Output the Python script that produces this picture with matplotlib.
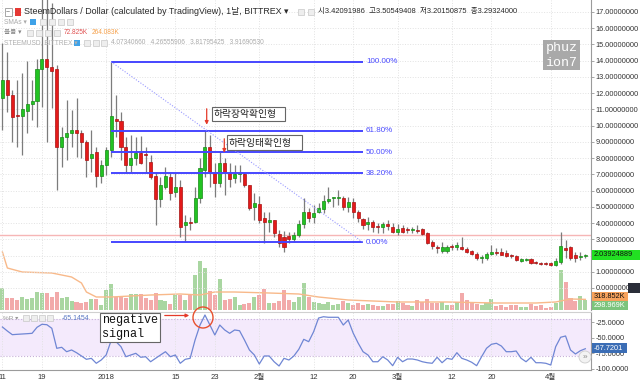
import matplotlib.pyplot as plt
import matplotlib.ticker as mticker
from matplotlib.patches import Rectangle, Ellipse, FancyArrowPatch

plt.rcParams['font.family'] = ['Liberation Sans', 'Noto Sans CJK KR', 'DejaVu Sans']

# ---- daily candles, STEEMUSD (Dec 11 -> Apr 8) ----
opens = [11.70, 12.81, 11.88, 10.60, 10.59, 10.90, 11.33, 11.51, 13.49, 14.10,
         13.61, 13.49, 8.68, 9.30, 9.54, 9.73, 9.54, 8.99, 8.00, 8.37,
         6.90, 7.57, 8.50, 10.40, 10.28, 8.68, 7.57, 8.00, 8.31, 8.28,
         7.76, 6.90, 5.48, 6.22, 6.83, 5.91, 6.22, 3.88, 4.06, 4.06,
         5.54, 7.27, 8.68, 7.08, 6.47, 7.70, 7.08, 6.77, 7.05, 7.02,
         6.34, 4.99, 5.17, 4.31, 4.06, 4.19, 3.33, 3.14, 3.20, 3.02,
         3.26, 3.94, 4.68, 4.37, 4.68, 4.86, 5.36, 5.54, 5.54, 5.54,
         4.99, 5.30, 4.68, 4.25, 3.94, 4.06, 3.80, 3.76, 3.94, 3.76,
         3.45, 3.69, 3.57, 3.55, 3.56, 3.63, 3.39, 2.83, 2.52, 2.28,
         2.28, 2.59, 2.52, 2.52, 2.40, 2.28, 2.09, 1.85, 1.85, 2.09,
         2.22, 2.22, 2.16, 1.97, 1.97, 1.66, 1.72, 1.79, 1.60, 1.54,
         1.51, 1.54, 1.42, 1.60, 2.46, 2.52, 2.03, 1.90, 1.97]
highs = [15.09, 14.53, 12.19, 12.81, 13.24, 13.98, 12.81, 14.10, 18.50, 18.20,
         17.55, 13.73, 9.91, 11.58, 10.96, 11.70, 9.73, 9.11, 9.73, 8.68,
         7.88, 8.68, 13.93, 11.88, 10.84, 9.30, 9.42, 9.30, 9.36, 8.68,
         8.19, 7.14, 6.83, 7.45, 7.08, 7.08, 6.65, 4.50, 4.37, 6.22,
         8.00, 9.73, 9.42, 7.70, 8.37, 8.00, 7.70, 7.57, 7.57, 7.08,
         6.34, 5.85, 5.67, 4.68, 4.68, 4.19, 3.57, 3.51, 3.45, 3.45,
         4.19, 5.54, 4.93, 5.11, 5.23, 5.73, 6.22, 5.60, 6.03, 5.67,
         5.60, 5.54, 4.80, 4.31, 4.37, 4.19, 4.00, 4.06, 4.19, 4.00,
         3.94, 3.88, 3.76, 3.76, 3.88, 3.69, 3.45, 2.96, 2.65, 2.83,
         2.65, 2.71, 2.83, 3.14, 2.52, 2.34, 2.22, 2.03, 2.22, 2.65,
         2.46, 2.46, 2.34, 2.09, 2.03, 1.85, 1.85, 1.85, 1.66, 1.60,
         1.60, 1.60, 1.85, 3.45, 2.96, 2.59, 2.22, 2.22, 2.09]
lows = [9.73, 10.84, 8.99, 8.68, 8.19, 9.54, 10.34, 9.91, 11.15, 8.99,
        11.08, 6.03, 7.45, 7.88, 8.68, 8.07, 8.00, 6.83, 7.14, 6.22,
        6.47, 6.96, 8.07, 9.30, 7.88, 7.08, 7.14, 7.57, 7.64, 7.08,
        6.71, 3.88, 4.99, 6.10, 5.42, 5.60, 3.14, 2.83, 3.57, 4.00,
        5.23, 6.83, 6.22, 5.60, 6.22, 5.73, 6.22, 6.47, 6.53, 6.22,
        4.80, 4.19, 4.00, 2.77, 3.45, 3.14, 2.52, 2.22, 2.77, 2.83,
        3.14, 3.69, 4.06, 4.00, 4.62, 4.62, 5.23, 4.99, 5.11, 4.80,
        4.68, 4.31, 4.06, 3.63, 3.57, 3.45, 3.39, 3.39, 3.57, 3.39,
        3.26, 3.39, 3.39, 3.39, 3.39, 3.26, 2.71, 2.40, 2.16, 2.16,
        2.16, 2.34, 2.34, 2.34, 2.16, 2.03, 1.72, 1.54, 1.72, 2.03,
        2.03, 2.03, 1.91, 1.85, 1.66, 1.60, 1.66, 1.48, 1.48, 1.42,
        1.42, 1.35, 1.35, 1.48, 1.85, 1.72, 1.60, 1.72, 1.85]
closes = [12.81, 11.88, 10.53, 10.59, 11.02, 11.33, 11.51, 13.49, 14.10, 13.61,
          13.36, 8.68, 9.30, 9.54, 9.73, 9.54, 8.99, 7.88, 8.25, 6.90,
          7.57, 8.50, 10.59, 10.30, 8.68, 7.57, 8.00, 8.31, 7.70, 8.22,
          6.83, 5.48, 6.34, 6.90, 5.85, 6.22, 3.76, 4.06, 4.03, 5.54,
          7.39, 8.68, 7.14, 6.47, 7.70, 7.14, 6.71, 7.02, 7.08, 6.34,
          4.93, 5.23, 4.19, 4.06, 4.19, 3.39, 2.77, 2.52, 3.02, 3.26,
          3.94, 4.68, 4.31, 4.62, 4.93, 5.36, 5.48, 5.56, 5.56, 4.99,
          5.30, 4.68, 4.31, 3.88, 4.06, 3.76, 3.78, 3.94, 3.82, 3.45,
          3.63, 3.45, 3.55, 3.56, 3.54, 3.33, 2.77, 2.59, 2.46, 2.52,
          2.52, 2.52, 2.65, 2.40, 2.22, 2.09, 1.85, 1.86, 2.09, 2.22,
          2.16, 2.03, 1.97, 1.96, 1.72, 1.79, 1.79, 1.54, 1.54, 1.48,
          1.50, 1.42, 1.66, 2.60, 2.34, 1.85, 1.85, 1.91, 2.04]

# volume (K)
volume = [651, 351, 351, 300, 399, 321, 351, 549, 501, 519,
          381, 549, 351, 399, 270, 249, 201, 249, 321, 321,
          150, 600, 771, 399, 399, 351, 480, 480, 480, 351,
          300, 519, 300, 270, 180, 450, 450, 300, 450, 1050,
          1470, 1251, 579, 450, 921, 300, 321, 399, 150, 180,
          219, 381, 450, 621, 201, 201, 279, 600, 300, 249,
          381, 819, 381, 249, 210, 180, 240, 150, 180, 270,
          210, 150, 201, 150, 180, 150, 120, 120, 171, 180,
          270, 201, 150, 120, 300, 249, 321, 219, 201, 249,
          150, 150, 249, 519, 300, 201, 171, 150, 201, 321,
          120, 150, 99, 150, 150, 81, 99, 180, 120, 150,
          51, 81, 201, 1200, 840, 360, 270, 420, 300]
# volume moving average (K), read at a few days
vol_ma_day = [0, 1, 4, 10, 14, 16, 17, 19, 22, 30, 36, 40, 43, 47, 54, 60,
              64, 70, 80, 90, 100, 108, 112, 115, 118]
vol_ma = [1740, 1260, 1140, 1110, 990, 810, 540, 390, 390, 450, 480, 450, 540,
          540, 510, 480, 390, 300, 240, 240, 210, 210, 240, 330, 319]

# Williams %R
wr = [-32.6, -39.1, -45.0, -44.4, -43.9, -43.4, -42.8, -33.1, -28.2, -28.9,
      -34.7, -67.0, -65.4, -72.5, -69.7, -74.1, -79.4, -84.8, -83.2, -91.2,
      -85.9, -77.8, -54.7, -56.3, -64.4, -80.6, -77.8, -75.1, -81.5, -80.6,
      -88.7, -83.2, -77.8, -72.5, -80.6, -77.8, -91.2, -84.8, -83.2, -53.6,
      -29.4, -13.2, -29.4, -45.5, -29.4, -37.4, -42.8, -37.4, -38.6, -53.6,
      -69.7, -77.8, -92.4, -79.4, -79.4, -88.7, -95.6, -83.2, -85.9, -79.4,
      -68.6, -52.5, -56.3, -40.2, -18.1, -16.0, -16.9, -16.9, -16.9, -29.4,
      -21.3, -42.3, -58.4, -72.5, -77.8, -88.7, -88.7, -80.6, -85.9, -95.1,
      -81.5, -88.7, -84.3, -84.3, -85.9, -88.7, -90.3, -91.2, -81.5, -90.3,
      -83.2, -84.8, -74.1, -83.2, -85.9, -89.6, -95.1, -80.6, -67.0, -60.5,
      -58.9, -63.3, -72.5, -72.5, -71.4, -83.2, -88.7, -81.5, -90.3, -90.3,
      -91.2, -94.0, -64.4, -49.2, -47.1, -69.7, -76.2, -70.9, -67.7]

# fibonacci retracement
fib_start, fib_end = 22, 73
fib_high, fib_low = 13.93, 2.81
fib_ratios = [1.0, 0.618, 0.5, 0.382, 0.0]
fib_labels = ['100.00%', '61.80%', '50.00%', '38.20%', '0.00%']
last_price_line = 3.29324
last_close_badge = 2.0

tick_days = [0, 8, 21, 35, 43, 52, 63, 71, 80, 91, 99, 111]
tick_labels = ['11', '19', '2018', '15', '23', '2월', '12', '20', '3월', '12', '20', '4월']

# ---------------------------------------------------------------
W, H = 640, 382


def px(x, y):
    return x / W, 1 - y / H


def box(x0, y0, x1, y1, fc, ec='none', lw=0, z=5):
    fig.add_artist(Rectangle(px(x0, y1), (x1 - x0) / W, (y1 - y0) / H,
                             transform=fig.transFigure, fc=fc, ec=ec, lw=lw, zorder=z))


def label(x, y, s, size=5.3, color='#333333', z=6, **kw):
    fig.text(x / W, 1 - y / H, s, fontsize=size, color=color, va='center', zorder=z, **kw)


fig = plt.figure(figsize=(6.4, 3.82), dpi=100)
days = list(range(len(opens)))
xlim = (-0.49, 119.15)

# volume pane (behind the candles)
ax_vol = fig.add_axes([0, 1 - 310 / H, 591 / W, 310 / H], zorder=1)
vcol = ['#a9d6a1' if c >= o else '#f2aaaa' for o, c in zip(opens, closes)]
ax_vol.bar(days, volume, width=0.82, color=vcol)
ax_vol.plot(vol_ma_day, vol_ma, color='#f8b98a', lw=1)
ax_vol.set_xlim(xlim)
ax_vol.set_ylim(0, 9300)
ax_vol.axis('off')

# price pane
ax = fig.add_axes([0, 1 - 310 / H, 591 / W, 310 / H], zorder=2)
ax.patch.set_visible(False)
ax.set_xlim(xlim)
ax.set_ylim(-1.355, 17.734)
ax.set_yticks(range(0, 18))
ax.set_xticks(tick_days)
ax.grid(True, ls=':', color='#e2e2e2', lw=0.7)
ax.set_axisbelow(True)
ax.yaxis.tick_right()
# the last-price badge hides the 2.0 label
ax.yaxis.set_major_formatter(mticker.FuncFormatter(
    lambda v, p: '' if v == last_close_badge else '%.8f' % v))
ax.tick_params(axis='y', labelsize=5.3, labelcolor='#333333', color='#999999',
               length=2.5, width=0.6, pad=1)
ax.tick_params(axis='x', length=0, labelbottom=False)
for s in ['top', 'left', 'bottom']:
    ax.spines[s].set_visible(False)
ax.spines['right'].set_color('#9b9b9b')
ax.spines['right'].set_linewidth(0.8)

ax.axhline(last_price_line, color='#f6b6b6', lw=1, zorder=2)

up = [c >= o for o, c in zip(opens, closes)]
ax.vlines(days, lows, highs, color='#7c7c7c', lw=0.9, zorder=3)
ax.bar(days, [max(abs(c - o), 0.06) for o, c in zip(opens, closes)],
       bottom=[min(o, c) for o, c in zip(opens, closes)], width=0.62,
       color=['#22c322' if u else '#e41a1a' for u in up],
       edgecolor=['#168a16' if u else '#a81212' for u in up], lw=0.5, zorder=4)

fib_levels = [fib_low + r * (fib_high - fib_low) for r in fib_ratios]
ax.hlines(fib_levels, fib_start, fib_end, color='#4646ff', lw=1.4, zorder=5)
ax.plot([fib_start, fib_end], [fib_high, fib_low], color='#9a9aff', lw=0.8,
        ls=(0, (1, 1.5)), zorder=5)
for lv, t in zip(fib_levels, fib_labels):
    ax.text(fib_end + 0.6, lv, t, fontsize=5.8, color='#4a4aff', va='center')

# Williams %R pane
axw = fig.add_axes([0, 1 - 369.5 / H, 591 / W, (369.5 - 312) / H])
axw.set_xlim(xlim)
axw.set_ylim(-101.25, -8.36)
axw.axhspan(-80, -20, color='#f4eafc', zorder=0, lw=0)
axw.axhline(-20, color='#c7b0d8', ls=':', lw=0.8)
axw.axhline(-80, color='#c7b0d8', ls=':', lw=0.8)
axw.plot(days, wr, color='#6f86d4', lw=0.9)
axw.yaxis.tick_right()
axw.set_yticks([-25, -50, -75, -100])
axw.yaxis.set_major_formatter(mticker.FormatStrFormatter('%.4f'))
axw.tick_params(axis='y', labelsize=5.3, labelcolor='#333333', color='#999999',
                length=2.5, width=0.6, pad=1)
axw.set_xticks(tick_days)
axw.set_xticklabels(tick_labels)
axw.tick_params(axis='x', labelsize=5.5, labelcolor='#333333', length=0, pad=3)
axw.grid(axis='x', ls=':', color='#e2e2e2', lw=0.7)
axw.spines['left'].set_visible(False)
axw.spines['top'].set_color('#d0d0d0')
axw.spines['right'].set_color('#9b9b9b')
axw.spines['bottom'].set_color('#9b9b9b')

# ---- header legend ----
box(4.5, 8.5, 11.5, 15.5, 'white', '#999999', 0.6)
label(5.2, 12, '−', 5, '#777777')
box(15, 8, 21, 16, '#e53935')
label(24, 12, 'SteemDollars / Dollar (calculated by TradingView), 1날, BITTREX ▾', 6.4, '#2a2a2a')
for x in (298, 308):
    box(x, 9, x + 6, 15, '#eeeeee', '#c8c8c8', 0.5)
label(318, 12, '시3.42091986  고3.50549408  저3.20150875  종3.29324000', 5.4, '#2a2a2a')

label(4, 22, 'SMAs ▾', 4.8, '#aaaaaa')
box(30, 19, 36, 25, '#3fa2e8')
for x in (40, 49, 58, 67):
    box(x, 19, x + 6, 25, '#eeeeee', '#c8c8c8', 0.5)

label(4, 33, '볼륨 ▾', 4.8, '#888888')
for x in (27, 36, 45, 54):
    box(x, 30, x + 6, 36, '#eeeeee', '#c8c8c8', 0.5)
label(64, 33, '72.825K', 4.7, '#e05050')
label(92, 33, '264.083K', 4.7, '#f5a04a')

label(4, 43, 'STEEMUSD, BITTREX ▾', 4.8, '#b0b0b0')
box(74, 40, 80, 46, '#3fa2e8')
for x in (84, 93, 101):
    box(x, 40, x + 6, 46, '#eeeeee', '#c8c8c8', 0.5)
label(111, 43, '4.07340660   4.26555906   3.81795425   3.91690530', 4.7, '#aaaaaa')

label(3, 318, '%R ▾', 4.6, '#999999')
for x in (23, 31, 39, 47):
    box(x, 315, x + 6, 321, '#eeeeee', '#c8c8c8', 0.5)
label(62, 318, '-65.1454', 5.0, '#5a78c4')

# watermark
box(543, 40, 580, 70, '#a9a9a9')
label(561.5, 48.5, 'phuz', 9.5, 'white', family='Liberation Mono', ha='center')
label(561.5, 62.5, 'ion7', 9.5, 'white', family='Liberation Mono', ha='center')

# ---- price scale badges ----
box(592, 250, 640, 260, '#22e022')
label(594, 255, '2.03924889', 5.3, '#111111')
box(628, 283, 640, 293, '#2a2e39')
box(592, 292, 628, 301, '#f7a25c')
label(594, 296.5, '318.852K', 5.3, '#111111')
box(592, 301, 628, 310, '#7cc47c')
label(594, 305.5, '298.969K', 5.3, 'white')
box(592, 343, 627, 353, '#3b6db5')
label(594, 348, '-67.7201', 5.3, 'white')
fig.add_artist(Ellipse(px(585, 357), 12 / W, 12 / H, transform=fig.transFigure,
                       fc='#f3f3f3', ec='#cccccc', lw=0.6, zorder=6))
label(585, 357, '»', 6, '#888888', ha='center')

# ---- annotations ----
box(211.5, 106.5, 285, 120.5, 'white', '#666666', 0.8)
label(213.5, 113.5, '하락장악확인형', 7, '#222222')
box(226.5, 135, 301.5, 150, 'white', '#666666', 0.8)
label(228.5, 142.5, '하락잉태확인형', 7, '#222222')
for x, y0, y1 in ((206.7, 106, 127.5), (224.3, 136, 155.5)):
    fig.add_artist(FancyArrowPatch(px(x, y0), px(x, y1), transform=fig.transFigure,
                                   arrowstyle='-|>', mutation_scale=5, color='#e53a2a',
                                   lw=0.9, zorder=7))

box(100, 313, 160, 341.5, 'white', '#666666', 0.8)
label(102, 320, 'negative', 8.5, '#111111', family='Liberation Mono')
label(102, 334, 'signal', 8.5, '#111111', family='Liberation Mono')
fig.add_artist(FancyArrowPatch(px(162, 315.5), px(192, 315.5), transform=fig.transFigure,
                               arrowstyle='-|>', mutation_scale=5, color='#e53a2a',
                               lw=0.9, zorder=7))
fig.add_artist(Ellipse(px(203, 317.5), 20 / W, 21 / H, transform=fig.transFigure,
                       fill=False, ec='#e8502e', lw=1, zorder=7))

fig.savefig('out.png', dpi=100)
